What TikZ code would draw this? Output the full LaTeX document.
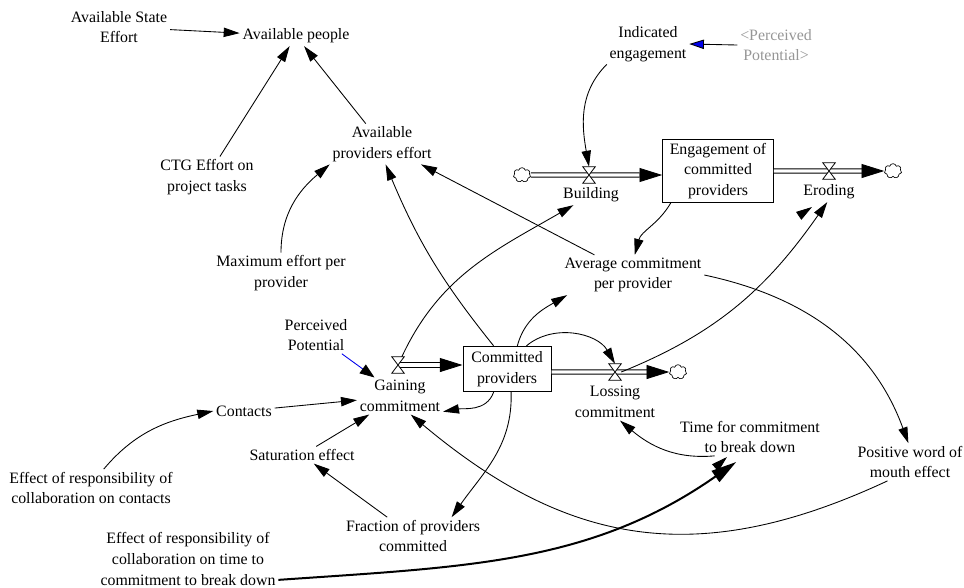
\documentclass[tikz,border=0pt]{standalone}
\usepackage{fontspec}
\setmainfont{Liberation Serif}
\usepackage{tikz}
\usetikzlibrary{arrows.meta,shapes.symbols}
\definecolor{ghostgray}{RGB}{150,150,150}
\definecolor{linkblue}{RGB}{0,0,235}
\tikzset{
  var/.style={align=center, inner sep=2pt, font=\fontsize{11.9}{15.4}\selectfont},
  ghost/.style={var, text=ghostgray},
  stock/.style={var, draw, line width=0.75pt, inner sep=1pt},
  valve/.style={minimum width=9pt, minimum height=12pt, inner sep=0pt},
  sink/.style={cloud, cloud puffs=7, aspect=1.2, draw, fill=white, line width=0.5pt,
    minimum width=13pt, minimum height=11pt, inner sep=0pt},
  link/.style={-{Triangle[length=12pt,width=7pt]}, line width=0.65pt},
  pipe/.style={double, double distance=2.6pt, line width=0.6pt}
}
\begin{document}
\begin{tikzpicture}[x=0.75pt, y=0.75pt]
  \useasboundingbox (0,0) rectangle (964,-587);
  \node[var] (ase) at (119,-27) {Available State\\Effort};
  \node[var] (ap) at (296,-36) {Available people};
  \node[var] (ctg) at (207,-177) {CTG Effort on\\project tasks};
  \node[var] (ape) at (382,-144) {Available\\providers effort};
  \node[var] (mep) at (281,-273) {Maximum effort per\\provider};
  \node[var] (ie) at (648,-44) {Indicated\\engagement};
  \node[ghost] (pp2) at (776,-45) {<Perceived\\Potential>};
  \node[stock, minimum width=83pt, minimum height=47pt] (ecp) at (718,-171) {Engagement of\\committed\\providers};
  \node[valve] (bv) at (589,-175) {};
  \node[sink] (bc) at (522,-175) {};
  \node[var] (bl) at (591,-195) {Building};
  \node[valve] (ev) at (829,-171) {};
  \node[sink] (ec) at (893,-171) {};
  \node[var] (el) at (829,-192) {Eroding};
  \node[var] (acp) at (633,-275) {Average commitment\\per provider};
  \node[stock, minimum width=66pt, minimum height=34pt] (cp) at (507,-369) {Committed\\providers};
  \node[valve] (gv) at (398,-365) {};
  \node[var] (gc) at (400,-396) {Gaining\\commitment};
  \node[valve] (lv) at (615,-372) {};
  \node[sink] (lc) at (678,-372) {};
  \node[var] (lcm) at (615,-402) {Lossing\\commitment};
  \node[var] (pp) at (316,-335) {Perceived\\Potential};
  \node[var] (con) at (244,-411) {Contacts};
  \node[var] (se) at (302,-455) {Saturation effect};
  \node[var] (erc) at (91,-488) {Effect of responsibility of\\collaboration on contacts};
  \node[var] (fpc) at (413,-536) {Fraction of providers\\committed};
  \node[var] (ert) at (188,-559) {Effect of responsibility of\\collaboration on time to\\commitment to break down};
  \node[var] (tcb) at (750,-437) {Time for commitment\\to break down};
  \node[var] (pwm) at (910,-462) {Positive word of\\mouth effect};
  \coordinate (eroding tail) at (800,-215);
  \coordinate (eroding tip) at (812,-207);
  \coordinate (break tail) at (715,-468);
  \coordinate (break tip) at (727,-457);

  \draw[pipe, -{Triangle[length=17pt,width=10.5pt]}] (bc) -- (bv.center) -- (ecp.west |- bv);
  \draw[pipe, -{Triangle[length=17pt,width=10.5pt]}] (ecp.east |- ev) -- (ev.center) -- (ec);
  \draw[pipe, -{Triangle[length=17pt,width=10.5pt]}] (gv.center) -- (cp.west |- gv);
  \draw[pipe, -{Triangle[length=17pt,width=10.5pt]}] (cp.east |- lv) -- (lv.center) -- (lc);
  \foreach \v in {bv,ev,gv,lv}
    \draw[fill=white, line width=0.6pt] (\v.north west) -- (\v.north east) -- (\v.south west) -- (\v.south east) -- cycle;

  \path[link]
  (ase) edge (ap)
  (ctg) edge (ap)
  (ape) edge (ap)
  (mep.north) edge[out=90,in=220] (ape.south west)
  (cp.120) edge[bend left=8] (ape.-80)
  (acp) edge (ape)
  (gv) edge[out=65,in=210] (bl)
  (ecp.214) edge[out=240,in=75] (acp.85)
  (cp.66) edge[out=75,in=210] (acp.197)
  (cp.50) edge[out=40,in=120] (lv.north)
  (lv.east) edge[out=22,in=235] (el.-100)
  (ie.south west) edge[out=225,in=100] (bv.north)
  (acp.east) edge[out=-12,in=110] (pwm.95)
  (pwm.220) edge[out=205,in=-40,looseness=1.1] (gc.-60)
  (cp.-120) edge[out=-110,in=10] (gc.-20)
  (cp.-80) edge[out=-88,in=55] (fpc.26)
  (fpc) edge (se)
  (se) edge (gc)
  (con) edge (gc)
  (erc.56) edge[out=50,in=192] (con.west)
  (tcb.208) edge[out=185,in=-40] (lcm.-75)
  (eroding tail) edge (eroding tip)
  (break tail) edge (break tip)
  ;
  \draw[link, draw=linkblue, -{Triangle[length=11pt,width=8pt,color=black]}] (pp) -- (gc);
  \draw[link, -{Triangle[length=11pt,width=7pt,fill=linkblue]}] (pp2.west) -- (ie.east);
  \draw[line width=1.5pt, -{Triangle[length=19pt,width=10pt]}, shorten >=8pt] (ert.-13) to[out=4,in=215] (tcb.-105);
\end{tikzpicture}
\end{document}
